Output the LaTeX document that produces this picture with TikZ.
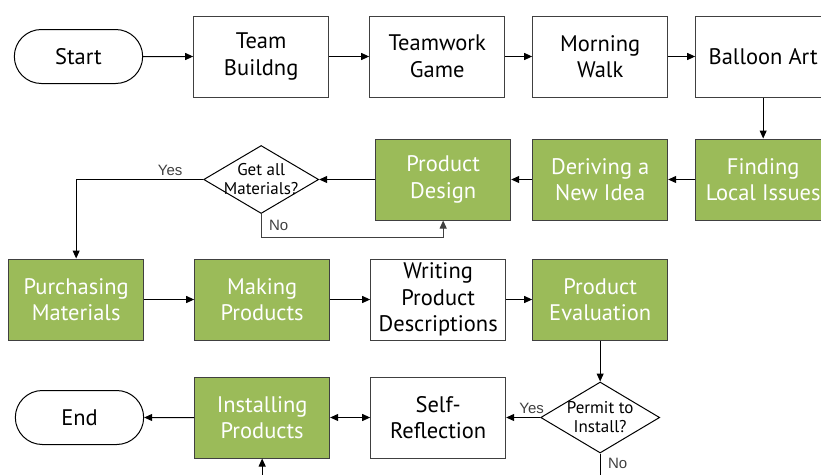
\documentclass[tikz,border=0pt]{standalone}
\usepackage{fontspec}
\setmainfont{PT Sans}
\newfontfamily\labelfont{Liberation Sans}
\usepackage{tikz}
\usetikzlibrary{arrows.meta, positioning, shapes.misc, shapes.geometric}
\definecolor{leaf}{HTML}{9BBB59}
\definecolor{rim}{HTML}{404040}
\tikzstyle{startstop} = [rounded rectangle, minimum width=135pt, minimum height=54pt, align=center, draw=black, font=\fontsize{22.5}{27}\selectfont]
\tikzstyle{process}   = [rectangle, minimum width=135pt, minimum height=81pt, align=center, draw=rim, fill=white, font=\fontsize{22.5}{26.5}\selectfont]
\tikzstyle{task}      = [process, fill=leaf, text=white]
\tikzstyle{decision}  = [diamond, aspect=1.7, minimum width=115pt, minimum height=68pt, inner xsep=-8pt, inner ysep=-2pt, align=center, draw=black, font=\fontsize{17}{19}\selectfont]
\tikzstyle{arrow}     = [->, >={Triangle[length=8pt, width=7pt]}]
\tikzstyle{yesno}     = [font=\labelfont\fontsize{15}{18}\selectfont, text=rim]

\begin{document}
\begin{tikzpicture}[line width=1pt]
\useasboundingbox (0,0) rectangle (821pt,-474pt);
\clip (0,0) rectangle (821pt,-474pt);
% first row
\node (start) [startstop] at (78.5pt,-56.5pt) {Start};
\node (team) [process, right=50pt of start] {Team\\Buildng};
\node (teamwork) [process, right=40pt of team] {Teamwork\\Game};
\node (walk) [process, right=27pt of teamwork] {Morning\\Walk};
\node (balloon) [process, right=27pt of walk] {Balloon Art};
% second row
\node (issues) [task, below=41pt of balloon] {Finding\\Local Issues};
\node (idea) [task, left=27pt of issues] {Deriving a\\New Idea};
\node (design) [task, left=21pt of idea] {Product\\Design};
\node (getall) [decision, left=56pt of design] {Get all\\Materials?};
% third row
\node (eval) [task, below=38pt of idea] {Product\\Evaluation};
\node (writing) [process, left=26pt of eval] {Writing\\Product\\Descriptions};
\node (making) [task, left=40pt of writing] {Making\\Products};
\node (purchase) [task, left=50pt of making] {Purchasing\\Materials};
% last row
\node (permit) [decision, minimum width=119pt, minimum height=71pt, below=41pt of eval] {Permit to\\Install?};
\node (reflect) [process, left=34pt of permit] {Self-\\Reflection};
\node (install) [task, left=40pt of reflect] {Installing\\Products};
\node (end) [startstop, left=50pt of install] {End};
\coordinate (nodown) at ([yshift=-40pt]permit.south);
\coordinate (fromdown) at ([yshift=-40pt]install.south);

\draw [arrow] (start) -- (team);
\draw [arrow] (team) -- (teamwork);
\draw [arrow] (teamwork) -- (walk);
\draw [arrow] (walk) -- (balloon);
\draw [arrow] (balloon) -- (issues);
\draw [arrow] (issues) -- (idea);
\draw [arrow] (idea) -- (design);
\draw [arrow] (design) -- (getall);
\draw [arrow] (getall.west) -| (purchase.north) node[pos=0.13, above, yesno] {Yes};
\draw [arrow, draw=rim] (getall.south) -- node[right=4pt, yesno] {No} ++(0,-23pt) -| (design.south);
\draw [arrow] (purchase) -- (making);
\draw [arrow] (making) -- (writing);
\draw [arrow] (writing) -- (eval);
\draw [arrow] (eval) -- (permit);
\draw [arrow] (permit) -- node[pos=0.25, above, yesno] {Yes} (reflect);
\draw (permit) -- node[pos=0.25, right=4pt, yesno] {No} (nodown);
\draw [arrow, <->] (install) -- (reflect);
\draw [arrow] (install) -- (end);
\draw [arrow] (fromdown) -- (install);
\end{tikzpicture}
\end{document}
